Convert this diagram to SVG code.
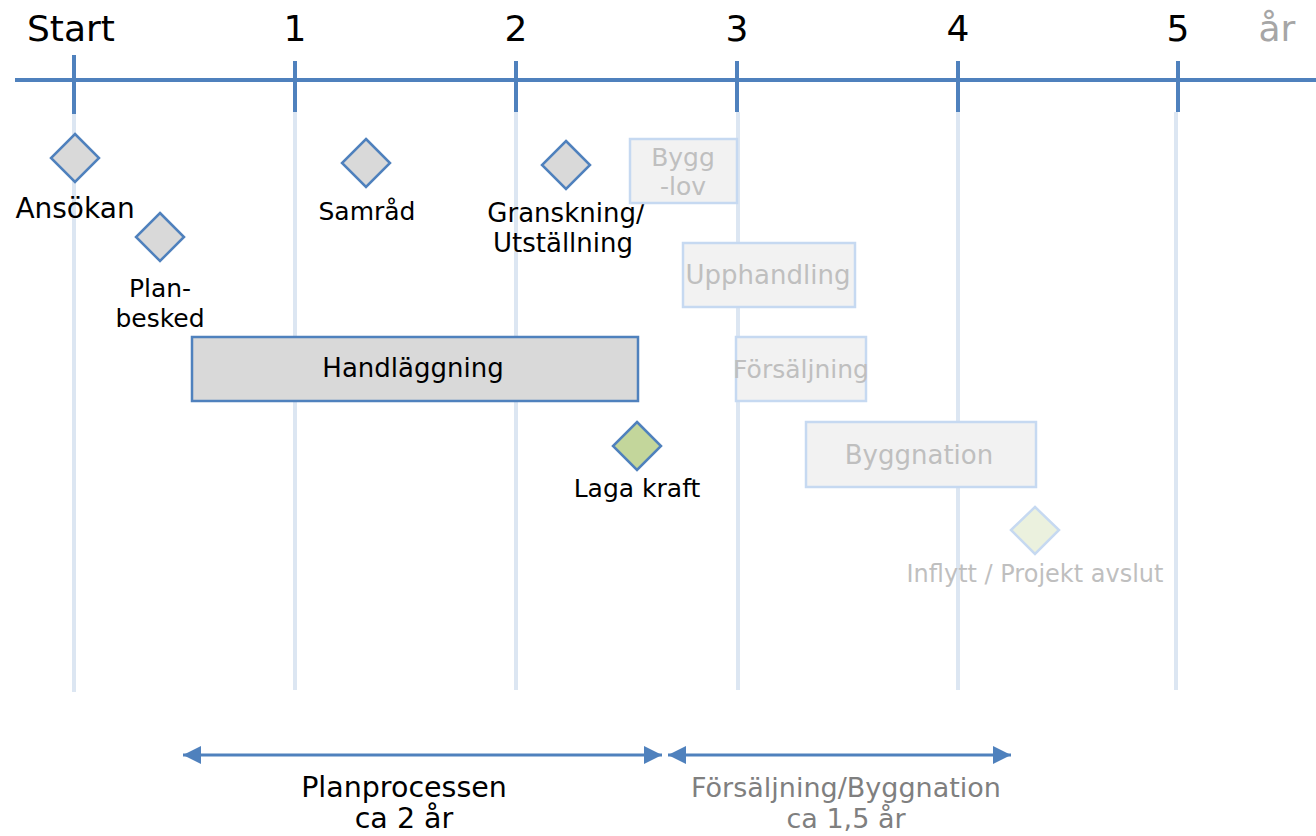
<svg xmlns="http://www.w3.org/2000/svg" width="1316" height="836" viewBox="0 0 1316 836">
<defs>
<style>
text{font-family:"DejaVu Sans","Liberation Sans",sans-serif;text-anchor:middle}
.grid{stroke:#dce6f2;stroke-width:4}
.tick{stroke:#4f81bd;stroke-width:4}
.dia{fill:#d9d9d9;stroke:#4f81bd;stroke-width:2.5}
.lbl{font-size:25px;fill:#000}
.ghost{fill:#f2f2f2;stroke:#c6d9f1;stroke-width:2.5}
.gtxt{font-size:26px;fill:#bfbfbf}
.yr{font-size:36px;fill:#000}
.arr{stroke:#4f81bd;stroke-width:3;fill:none}
</style>
<marker id="ah" viewBox="0 0 10 10" refX="10" refY="5" markerWidth="6" markerHeight="6" orient="auto-start-reverse" markerUnits="strokeWidth">
<path d="M0,0L10,5L0,10z" fill="#4f81bd"/>
</marker>
</defs>
<rect width="1316" height="836" fill="#fff"/>
<g id="grid">
<line class="grid" x1="74" y1="112" x2="74" y2="692"/>
<line class="grid" x1="295" y1="112" x2="295" y2="690"/>
<line class="grid" x1="516" y1="112" x2="516" y2="690"/>
<line class="grid" x1="738" y1="112" x2="738" y2="690"/>
<line class="grid" x1="958" y1="112" x2="958" y2="690"/>
<line class="grid" x1="1176" y1="112" x2="1176" y2="690"/>
</g>
<g id="axis">
<line class="tick" x1="15" y1="80" x2="1316" y2="80"/>
<line class="tick" x1="74" y1="55" x2="74" y2="114"/>
<line class="tick" x1="295" y1="61" x2="295" y2="112"/>
<line class="tick" x1="516" y1="61" x2="516" y2="112"/>
<line class="tick" x1="737" y1="61" x2="737" y2="112"/>
<line class="tick" x1="958" y1="61" x2="958" y2="112"/>
<line class="tick" x1="1178" y1="61" x2="1178" y2="112"/>
<text class="yr" x="71" y="41">Start</text>
<text class="yr" x="295" y="41">1</text>
<text class="yr" x="516" y="41">2</text>
<text class="yr" x="737" y="41">3</text>
<text class="yr" x="958" y="41">4</text>
<text class="yr" x="1178" y="41">5</text>
<text class="yr" x="1277" y="41" style="fill:#a6a6a6">år</text>
</g>
<g id="ansokan">
<path class="dia" d="M75,134L99,158L75,182L51,158z"/>
<text class="lbl" x="75" y="218" style="font-size:28px">Ansökan</text>
</g>
<g id="planbesked">
<path class="dia" d="M160,213L184,237L160,261L136,237z"/>
<text class="lbl" x="160" y="297">Plan-</text>
<text class="lbl" x="160" y="327">besked</text>
</g>
<g id="samrad">
<path class="dia" d="M366,139L390,163L366,187L342,163z"/>
<text class="lbl" x="367" y="220">Samråd</text>
</g>
<g id="granskning">
<path class="dia" d="M566,141L590,165L566,189L542,165z"/>
<text class="lbl" x="566" y="222" style="font-size:26px">Granskning/</text>
<text class="lbl" x="563" y="252" style="font-size:26px">Utställning</text>
</g>
<g id="handlaggning">
<rect x="192" y="337" width="446" height="64" fill="#d9d9d9" stroke="#4f81bd" stroke-width="2.5"/>
<text class="lbl" x="413" y="377" style="font-size:26px">Handläggning</text>
</g>
<g id="lagakraft">
<path class="dia" d="M637,422L661,446L637,470L613,446z" style="fill:#c3d69b"/>
<text class="lbl" x="637" y="497">Laga kraft</text>
</g>
<g id="bygglov">
<rect class="ghost" x="630" y="139" width="107" height="64"/>
<text class="gtxt" x="683" y="166" style="font-size:25px">Bygg</text>
<text class="gtxt" x="683" y="195" style="font-size:25px">-lov</text>
</g>
<g id="upphandling">
<rect class="ghost" x="683" y="243" width="172" height="64"/>
<text class="gtxt" x="768" y="284">Upphandling</text>
</g>
<g id="forsaljning">
<rect class="ghost" x="736" y="337" width="130" height="64"/>
<text class="gtxt" x="801" y="378" style="font-size:25px">Försäljning</text>
</g>
<g id="byggnation">
<rect class="ghost" x="806" y="422" width="230" height="65"/>
<text class="gtxt" x="919" y="464">Byggnation</text>
</g>
<g id="inflytt">
<path d="M1035,507L1059,530L1035,554L1011,530z" fill="#ebf1de" stroke="#c6d9f1" stroke-width="2.5"/>
<text class="gtxt" x="1035" y="582" style="font-size:24px">Inflytt / Projekt avslut</text>
</g>
<g id="connectors">
<line class="arr" x1="183" y1="755" x2="662" y2="755" marker-start="url(#ah)" marker-end="url(#ah)"/>
<line class="arr" x1="668" y1="755" x2="1011" y2="755" marker-start="url(#ah)" marker-end="url(#ah)"/>
</g>
<g id="spans">
<text x="404" y="797" style="font-size:28.5px;fill:#000">Planprocessen</text>
<text x="404" y="828" style="font-size:28.5px;fill:#000">ca 2 år</text>
<text x="846" y="797" style="font-size:27px;fill:#7f7f7f">Försäljning/Byggnation</text>
<text x="846" y="828" style="font-size:27px;fill:#7f7f7f">ca 1,5 år</text>
</g>
</svg>
